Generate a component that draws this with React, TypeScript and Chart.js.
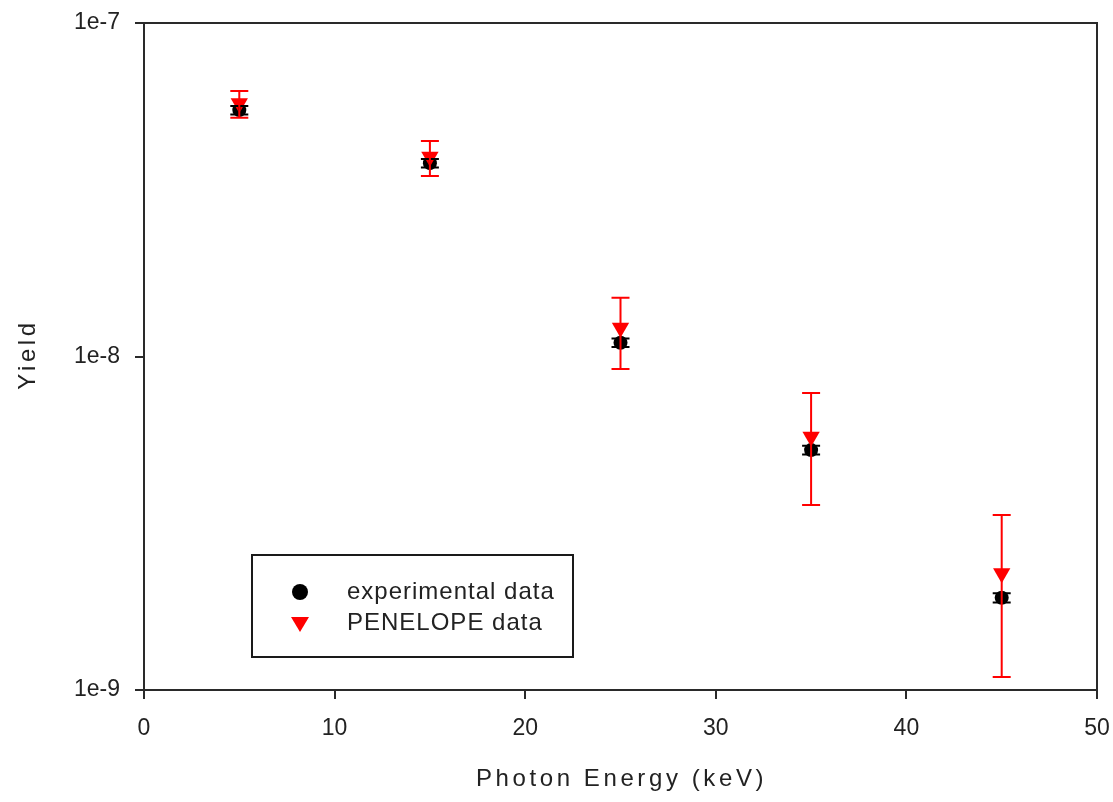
import React, { useEffect, useRef } from "react";
import { Chart, registerables } from "chart.js";

Chart.register(...registerables);

const energy = [5, 15, 25, 35, 45];
const expYield = [5.48e-8, 3.8e-8, 1.1e-8, 5.24e-9, 1.89e-9];
const expErrLow = [5.32e-8, 3.69e-8, 1.068e-8, 5.08e-9, 1.83e-9];
const expErrHigh = [5.64e-8, 3.91e-8, 1.132e-8, 5.4e-9, 1.95e-9];
const penYield = [5.75e-8, 3.97e-8, 1.22e-8, 5.75e-9, 2.24e-9];
const penErrLow = [5.2e-8, 3.48e-8, 9.17e-9, 3.59e-9, 1.094e-9];
const penErrHigh = [6.25e-8, 4.43e-8, 1.5e-8, 7.77e-9, 3.35e-9];

const xTickStep = 10;
const xMin = 0;
const xMax = 50;
const yTickValues = [1e-9, 1e-8, 1e-7];
const yTickLabels = ["1e-9", "1e-8", "1e-7"];

const xTitle = "Photon Energy (keV)";
const yTitle = "Yield";
const expLabel = "experimental data";
const penLabel = "PENELOPE data";

const FONT = "'Liberation Sans', Arial, sans-serif";
const AXIS_COLOR = "#2a2a2a";
const TEXT_COLOR = "#222";
const RED = "#ff0000";

const overlayPlugin = {
  id: "overlay",
  afterDatasetsDraw(chart: any) {
    const ctx = chart.ctx;
    const xs = chart.scales.x;
    const ys = chart.scales.y;
    const drawBars = (lo: number[], hi: number[], color: string, cap: number) => {
      ctx.save();
      ctx.strokeStyle = color;
      ctx.lineWidth = 2;
      for (let i = 0; i < energy.length; i++) {
        const px = xs.getPixelForValue(energy[i]);
        const pt = ys.getPixelForValue(hi[i]);
        const pb = ys.getPixelForValue(lo[i]);
        ctx.beginPath();
        ctx.moveTo(px, pt);
        ctx.lineTo(px, pb);
        ctx.moveTo(px - cap, pt);
        ctx.lineTo(px + cap, pt);
        ctx.moveTo(px - cap, pb);
        ctx.lineTo(px + cap, pb);
        ctx.stroke();
      }
      ctx.restore();
    };
    drawBars(expErrLow, expErrHigh, "#000", 9);
    drawBars(penErrLow, penErrHigh, RED, 9);
  },
  afterDraw(chart: any) {
    const ctx = chart.ctx;
    const a = chart.chartArea;
    ctx.save();
    // frame top/right
    ctx.strokeStyle = AXIS_COLOR;
    ctx.lineWidth = 2;
    ctx.strokeRect(a.left, a.top, a.right - a.left, a.bottom - a.top);

    // axis titles
    ctx.fillStyle = TEXT_COLOR;
    ctx.font = `24px ${FONT}`;
    (ctx as any).letterSpacing = "3.6px";
    ctx.textAlign = "center";
    ctx.textBaseline = "middle";
    ctx.fillText(xTitle, (a.left + a.right) / 2 + 1, 779);
    ctx.save();
    ctx.translate(28, (a.top + a.bottom) / 2);
    ctx.rotate(-Math.PI / 2);
    ctx.fillText(yTitle, 2, 0);
    ctx.restore();

    // legend box
    ctx.lineWidth = 2;
    ctx.strokeStyle = "#1a1a1a";
    ctx.strokeRect(252, 555, 321, 102);
    // markers
    ctx.fillStyle = "#000";
    ctx.beginPath();
    ctx.arc(300, 592, 8, 0, Math.PI * 2);
    ctx.fill();
    ctx.fillStyle = RED;
    ctx.beginPath();
    ctx.moveTo(291, 617);
    ctx.lineTo(309, 617);
    ctx.lineTo(300, 632);
    ctx.closePath();
    ctx.fill();
    // legend text
    ctx.fillStyle = TEXT_COLOR;
    ctx.font = `24px ${FONT}`;
    (ctx as any).letterSpacing = "1px";
    ctx.textAlign = "left";
    ctx.textBaseline = "middle";
    ctx.fillText(expLabel, 347, 592);
    ctx.fillText(penLabel, 347, 623);
    ctx.restore();
  },
};

export default function App() {
  const ref = useRef<HTMLCanvasElement | null>(null);
  useEffect(() => {
    if (!ref.current) return;
    const chart = new Chart(ref.current, {
      type: "scatter",
      data: {
        datasets: [
          {
            label: penLabel,
            data: energy.map((e, i) => ({ x: e, y: penYield[i] })),
            pointStyle: "triangle",
            rotation: 180,
            pointRadius: 10,
            pointHoverRadius: 10,
            backgroundColor: RED,
            borderColor: RED,
            borderWidth: 0,
          },
          {
            label: expLabel,
            data: energy.map((e, i) => ({ x: e, y: expYield[i] })),
            pointStyle: "circle",
            pointRadius: 7,
            pointHoverRadius: 7,
            backgroundColor: "#000",
            borderColor: "#000",
            borderWidth: 0,
          },
        ],
      },
      options: {
        responsive: false,
        animation: false,
        devicePixelRatio: 1,
        layout: { autoPadding: false, padding: { top: 23, right: 16, left: 0, bottom: 0 } },
        plugins: {
          legend: { display: false },
          tooltip: { enabled: false },
        },
        scales: {
          x: {
            type: "linear",
            min: xMin,
            max: xMax,
            ticks: {
              stepSize: xTickStep,
              font: { family: FONT, size: 23 },
              color: TEXT_COLOR,
              padding: 16,
              maxRotation: 0,
            },
            grid: {
              drawOnChartArea: false,
              drawTicks: true,
              tickLength: 9,
              color: AXIS_COLOR,
              lineWidth: 2,
            },
            border: { display: true, color: AXIS_COLOR, width: 2 },
            afterFit: (s: any) => {
              s.height = 112;
              s.paddingLeft = 0;
              s.paddingRight = 0;
            },
          },
          y: {
            type: "logarithmic",
            min: yTickValues[0],
            max: yTickValues[yTickValues.length - 1],
            afterBuildTicks: (s: any) => {
              s.ticks = yTickValues.map((v) => ({ value: v }));
            },
            ticks: {
              font: { family: FONT, size: 23 },
              color: TEXT_COLOR,
              padding: 15,
              callback: (v: any) => {
                const idx = yTickValues.findIndex((t) => Math.abs(Number(v) / t - 1) < 1e-6);
                return idx >= 0 ? yTickLabels[idx] : null;
              },
            },
            grid: {
              drawOnChartArea: false,
              drawTicks: true,
              tickLength: 9,
              color: AXIS_COLOR,
              lineWidth: 2,
            },
            border: { display: true, color: AXIS_COLOR, width: 2 },
            afterFit: (s: any) => {
              s.width = 144;
              s.paddingTop = 0;
              s.paddingBottom = 0;
            },
          },
        },
      },
      plugins: [overlayPlugin],
    } as any);
    return () => chart.destroy();
  }, []);
  return (
    <div style={{ position: "absolute", left: 0, top: 0, width: 1113, height: 802, background: "#fff" }}>
      <canvas ref={ref} width={1113} height={802} style={{ width: 1113, height: 802, display: "block" }} />
    </div>
  );
}
